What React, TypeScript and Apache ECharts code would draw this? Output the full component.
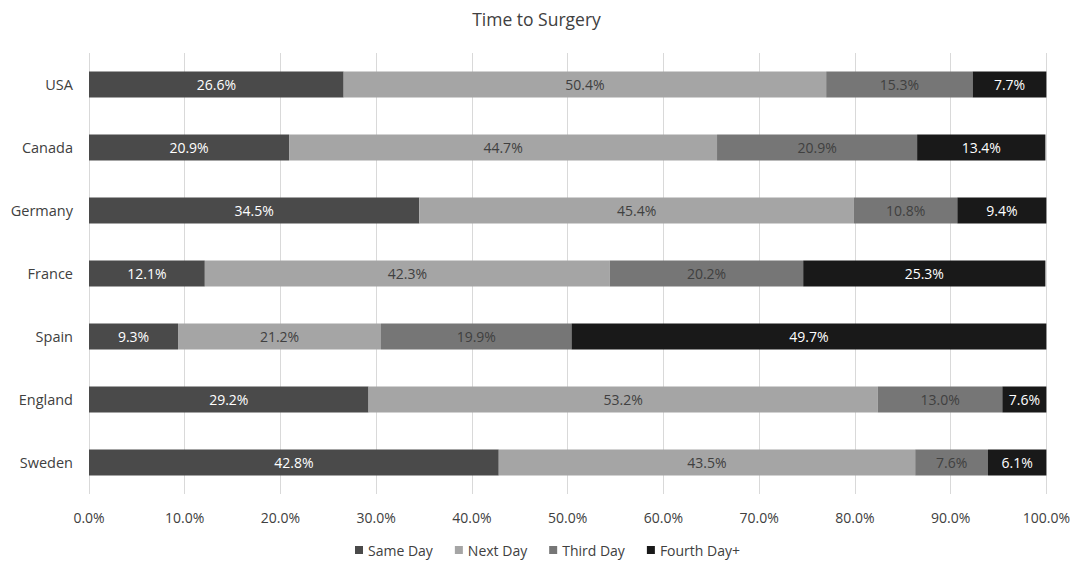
import React, { useEffect, useRef } from "react";
import * as echarts from "echarts";

const countries = ["USA", "Canada", "Germany", "France", "Spain", "England", "Sweden"];
const seriesNames = ["Same Day", "Next Day", "Third Day", "Fourth Day+"];
const sameDay = [26.6, 20.9, 34.5, 12.1, 9.3, 29.2, 42.8];
const nextDay = [50.4, 44.7, 45.4, 42.3, 21.2, 53.2, 43.5];
const thirdDay = [15.3, 20.9, 10.8, 20.2, 19.9, 13.0, 7.6];
const fourthDay = [7.7, 13.4, 9.4, 25.3, 49.7, 7.6, 6.1];
const xTicks = [0, 10, 20, 30, 40, 50, 60, 70, 80, 90, 100];

const colors = ["#4a4a4a", "#a5a5a5", "#767676", "#191919"];
const labelColors = ["#ffffff", "#404040", "#404040", "#ffffff"];
const FONT = "'Open Sans', sans-serif";

export default function App() {
  const ref = useRef<HTMLDivElement>(null);
  useEffect(() => {
    if (!ref.current) return;
    const chart = echarts.init(ref.current, null, { renderer: "svg" });
    const data = [sameDay, nextDay, thirdDay, fourthDay];
    chart.setOption({
      animation: false,
      backgroundColor: "#ffffff",
      textStyle: { fontFamily: FONT },
      title: {
        text: "Time to Surgery",
        left: "center",
        top: 5,
        textStyle: { fontFamily: FONT, fontSize: 17.5, fontWeight: "normal", color: "#404040" },
      },
      legend: {
        bottom: 2,
        left: 350,
        itemWidth: 8,
        itemHeight: 8,
        itemGap: 22,
        icon: "rect",
        textStyle: { fontFamily: FONT, fontSize: 14, color: "#404040" },
        data: seriesNames,
      },
      grid: { left: 89, right: 26, top: 53, bottom: 70, containLabel: false },
      xAxis: {
        type: "value",
        min: 0,
        max: 100,
        interval: 10,
        axisLine: { show: false },
        axisTick: { show: false },
        splitLine: { show: true, lineStyle: { color: "#d9d9d9", width: 1 } },
        axisLabel: {
          fontFamily: FONT,
          fontSize: 14,
          color: "#404040",
          margin: 16,
          formatter: (v: number) => (xTicks.includes(v) ? v.toFixed(1) + "%" : ""),
        },
      },
      yAxis: {
        type: "category",
        data: countries,
        inverse: true,
        axisLine: { show: false },
        axisTick: { show: false },
        splitLine: { show: false },
        axisLabel: { fontFamily: FONT, fontSize: 14.5, color: "#404040", margin: 16 },
      },
      series: seriesNames.map((name, i) => ({
        name,
        type: "bar",
        stack: "total",
        barWidth: "41%",
        clip: true,
        itemStyle: { color: colors[i] },
        label: {
          show: true,
          position: "inside",
          fontFamily: FONT,
          fontSize: 14,
          color: labelColors[i],
          formatter: (p: any) => Number(p.value).toFixed(1) + "%",
        },
        data: data[i],
      })),
    });
    return () => chart.dispose();
  }, []);
  return (
    <div
      ref={ref}
      style={{ position: "fixed", left: 0, top: 0, width: 1073, height: 564 }}
    />
  );
}
